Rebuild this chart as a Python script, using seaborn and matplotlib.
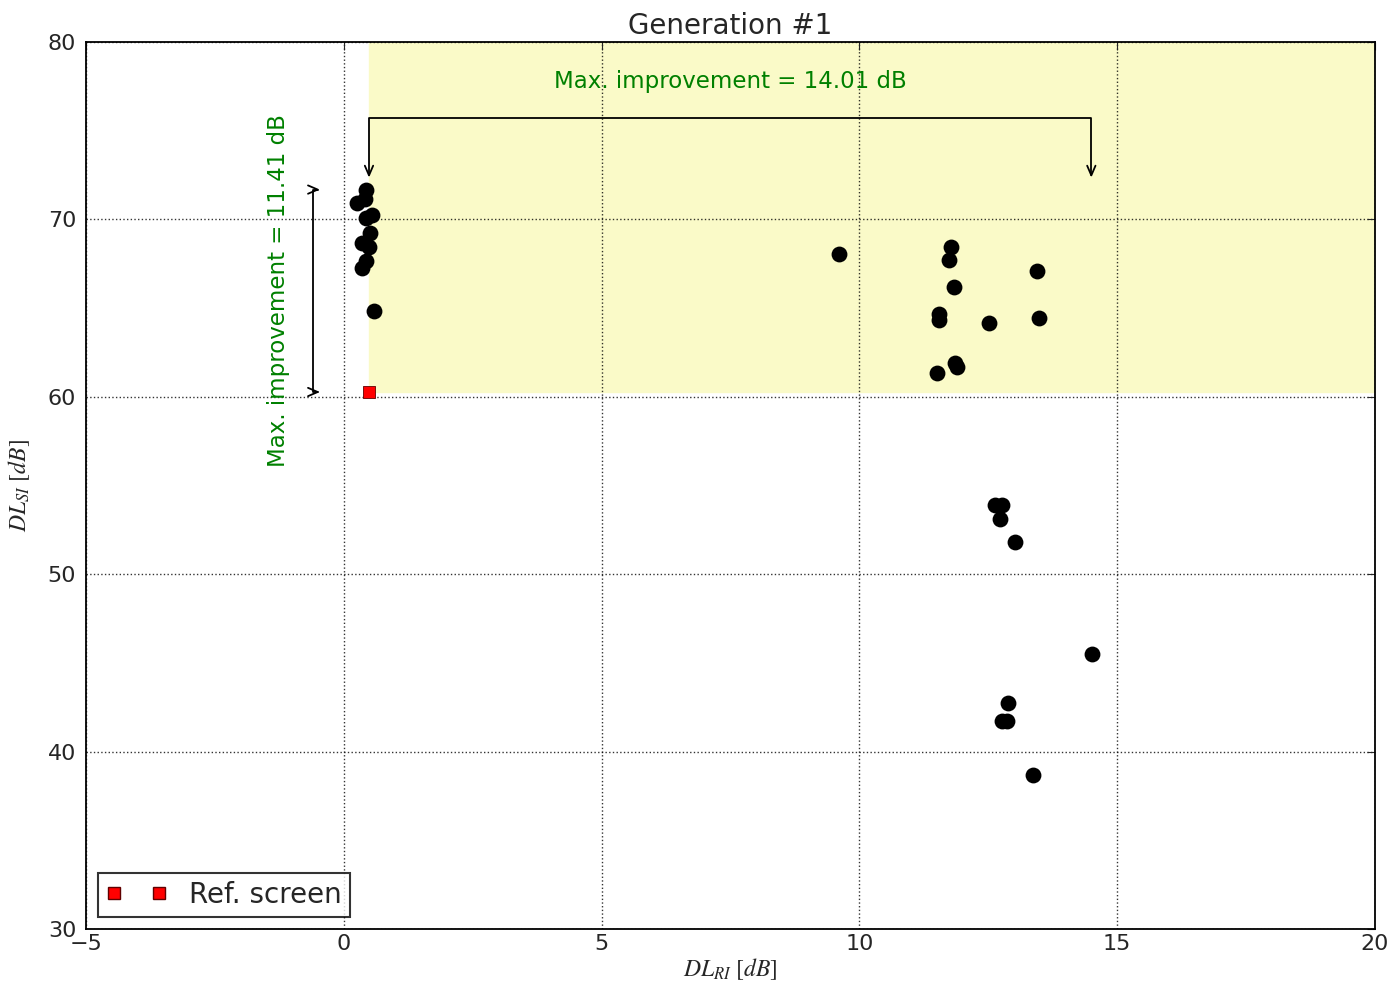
import numpy as np
import pandas as pd
import matplotlib
matplotlib.use("Agg")
import matplotlib.pyplot as plt
import seaborn as sns

# population of generation 1 (DL_RI, DL_SI in dB)
dl_ri = [0.44, 0.26, 0.41, 0.54, 0.44, 0.51, 0.36, 0.49, 0.44, 0.36, 0.59,
         9.60, 11.78, 11.74, 11.84, 11.55, 11.55, 12.51, 13.44, 13.49,
         11.51, 11.85, 11.89,
         12.63, 12.77, 12.73, 13.02, 14.52, 12.89, 12.76, 12.86, 13.37]
dl_si = [71.68, 70.94, 71.13, 70.25, 70.06, 69.25, 68.65, 68.46, 67.67, 67.24, 64.85,
         68.05, 68.46, 67.71, 66.21, 64.65, 64.33, 64.18, 67.11, 64.42,
         61.36, 61.89, 61.66,
         53.90, 53.90, 53.11, 51.83, 45.48, 42.76, 41.74, 41.74, 38.68]

# reference screen
ref_ri = [0.49]
ref_si = [60.27]

max_si_gain = 11.41
max_ri_gain = 14.01

df = pd.DataFrame({"ri": dl_ri, "si": dl_si})
ref = pd.DataFrame({"ri": ref_ri, "si": ref_si})

sns.set_style("white")
plt.rcParams["font.family"] = ["DejaVu Sans"]
plt.rcParams["mathtext.fontset"] = "stix"

fig = plt.figure(figsize=(13.93, 9.90), dpi=100)
ax = fig.add_axes([0.0617, 0.0616, 0.9253, 0.896])

x0, y0 = ref_ri[0], ref_si[0]
# region better than reference
ax.axhspan(y0, 80, xmin=(x0 + 5) / 25.0, xmax=1.0, color="#fafac8", zorder=0)

sns.scatterplot(data=df, x="ri", y="si", ax=ax, color="black", s=130,
                edgecolor="black", linewidth=0, zorder=3, legend=False)
sns.scatterplot(data=ref, x="ri", y="si", ax=ax, color="red", marker="s",
                s=75, edgecolor="#600000", linewidth=0.6, zorder=4, legend=False)

ax.set_xlim(-5, 20)
ax.set_ylim(30, 80)
ax.set_xticks([-5, 0, 5, 10, 15, 20])
ax.set_yticks([30, 40, 50, 60, 70, 80])
ax.grid(True, color="black", linestyle=":", linewidth=1.0, alpha=0.8)
ax.set_axisbelow(True)
ax.tick_params(direction="in", top=True, right=True, labelsize=16, length=6)
ax.tick_params(axis="y", pad=7)
for sp in ax.spines.values():
    sp.set_linewidth(1.3)
    sp.set_color("black")

ax.set_title("Generation #1", fontsize=20, pad=6)
ax.set_xlabel(r"$DL_{RI}\ [dB]$", fontsize=17, labelpad=2)
ax.set_ylabel(r"$DL_{SI}\ [dB]$", fontsize=17, labelpad=11)

arrow_style = "<->,head_length=0.7,head_width=0.3"

# improvement arrows
top_si = y0 + max_si_gain
ax.annotate("", xy=(x0, 72.35), xytext=(x0 + max_ri_gain, 72.35),
            arrowprops=dict(arrowstyle=arrow_style, color="black", lw=1.3,
                            connectionstyle="bar,fraction=0.082",
                            shrinkA=0, shrinkB=0))
ax.text(7.5, 77.8, "Max. improvement = %.2f dB" % max_ri_gain, color="green",
        fontsize=16.5, ha="center", va="center")

ax.annotate("", xy=(-0.46, top_si), xytext=(-0.46, y0),
            arrowprops=dict(arrowstyle=arrow_style, color="black", lw=1.3,
                            connectionstyle="bar,fraction=-0.035",
                            shrinkA=0, shrinkB=0))
ax.text(-1.27, 66.0, "Max. improvement = %.2f dB" % max_si_gain, color="green",
        fontsize=16.5, ha="center", va="center", rotation=90)

# legend with two markers like old matplotlib
ax.plot([], [], linestyle="none", marker="s", color="red",
        markeredgecolor="#600000", markersize=8, label="Ref. screen")
leg = ax.legend(loc="lower left", numpoints=2, fontsize=20, frameon=True,
                fancybox=False, borderpad=0.3, handlelength=2.2,
                handletextpad=0.8, borderaxespad=0.42)
leg.get_frame().set_edgecolor("black")
leg.get_frame().set_linewidth(1.5)

fig.savefig("out.png", dpi=100)
